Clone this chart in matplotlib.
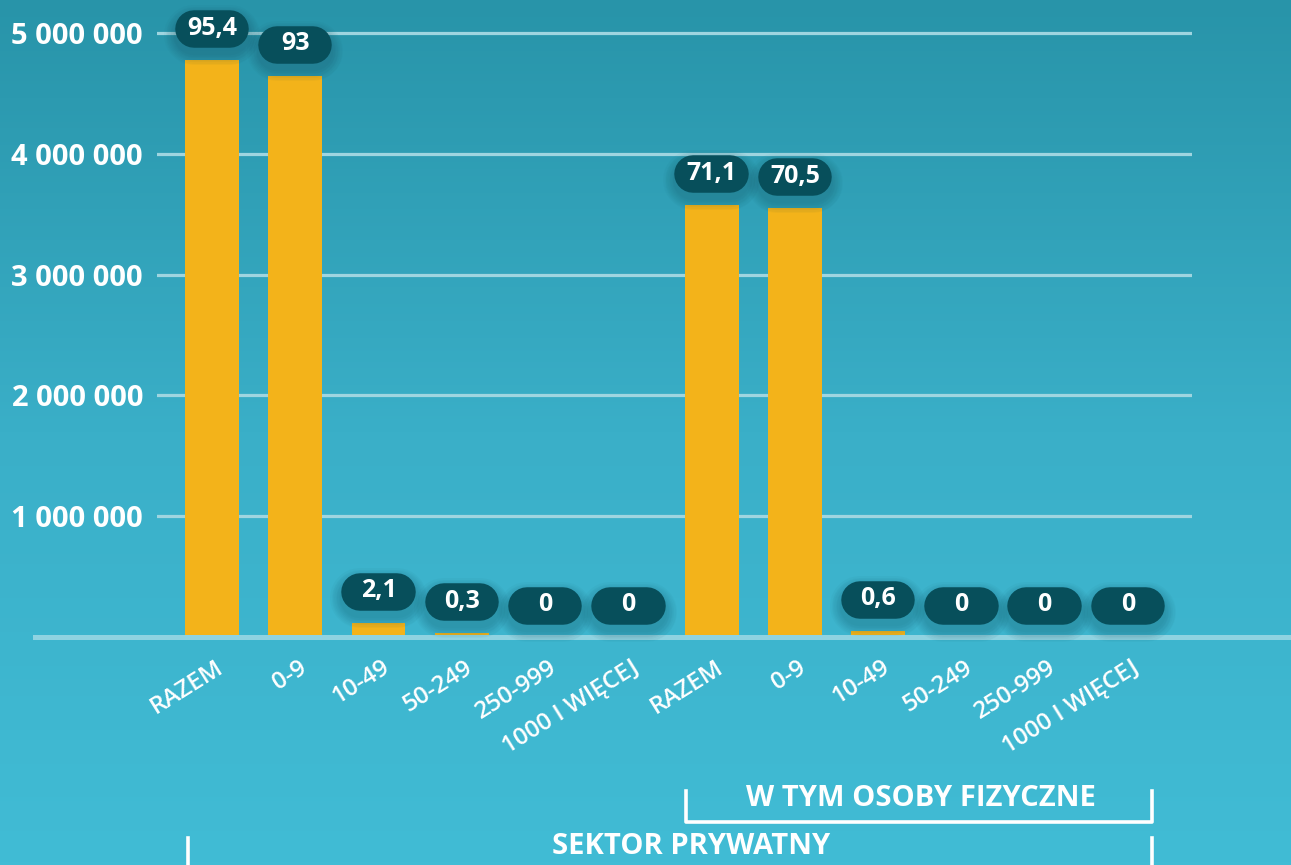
import numpy as np
import matplotlib
matplotlib.use('Agg')
import matplotlib.pyplot as plt
from matplotlib.lines import Line2D
from matplotlib.transforms import ScaledTranslation, blended_transform_factory
from matplotlib.colors import LinearSegmentedColormap

# ---------------- data ----------------
categories = ['RAZEM', '0-9', '10-49', '50-249', '250-999', '1000 I WIĘCEJ']
sector_values = [4775000, 4648000, 118000, 30000, 2500, 400]
sector_labels = ['95,4', '93', '2,1', '0,3', '0', '0']
persons_values = [3576000, 3548000, 50000, 1500, 150, 20]
persons_labels = ['71,1', '70,5', '0,6', '0', '0', '0']
y_ticks = [1000000, 2000000, 3000000, 4000000, 5000000]
y_tick_labels = ['1 000 000', '2 000 000', '3 000 000', '4 000 000', '5 000 000']
group_inner = 'W TYM OSOBY FIZYCZNE'
group_outer = 'SEKTOR PRYWATNY'

plt.rcParams['font.family'] = ['Open Sans', 'DejaVu Sans']

W, H = 1291, 865
fig = plt.figure(figsize=(W / 100, H / 100), dpi=100)

# background gradient
bg = fig.add_axes([0, 0, 1, 1], zorder=-10)
grad = np.linspace(0, 1, 256).reshape(-1, 1)
cmap = LinearSegmentedColormap.from_list('bg', ['#2894a9', '#3aafc8', '#41bcd5'])
bg.imshow(grad, aspect='auto', cmap=cmap, extent=[0, 1, 0, 1], origin='upper')
bg.axis('off')

# main axes
px_per_m = 120.8
ymax = 5.2e6
ax = fig.add_axes([157 / W, 1 - 637 / H, (1192 - 157) / W, (ymax / 1e6 * px_per_m) / H])
ax.set_facecolor('none')

values = sector_values + persons_values
labels = sector_labels + persons_labels
xlabels = categories + categories
x = np.arange(len(values))

ax.bar(x, values, width=0.648, color='#f3b31a', zorder=3)

for t in y_ticks:
    ax.axhline(t, color='#9fd5e0', lw=2.3, zorder=1)
ax.axhline(0, xmin=(35 - 157) / 1035, xmax=(1291 - 157) / 1035, color='#8fd3e1',
           lw=3.6, clip_on=False, zorder=4)

for s in ax.spines.values():
    s.set_visible(False)

ax.set_yticks(y_ticks, y_tick_labels)
ax.tick_params(axis='y', length=0, pad=10, labelsize=21, labelcolor='white')
for lab in ax.get_yticklabels():
    lab.set_fontweight('bold')

ax.set_xticks(x, xlabels)
ax.tick_params(axis='x', length=0, pad=12, labelsize=17.5, labelcolor='white')
for lab in ax.get_xticklabels():
    lab.set_rotation(32)
    lab.set_ha('right')
    lab.set_va('top')
    lab.set_rotation_mode('anchor')
    lab.set_fontweight('semibold')
    lab.set_transform(lab.get_transform() + ScaledTranslation(3 / 100, -2 / 100, fig.dpi_scale_trans))

# pills (stadium shapes drawn as thick round-capped lines, sizes in inches)
pw, ph, off = 0.74, 0.375, 0.31
half = (pw - ph) / 2
for xi, v, lab in zip(x, values, labels):
    trans = fig.dpi_scale_trans + ScaledTranslation(xi, v, ax.transData)
    for k in range(8):
        e = 0.014 * (k + 1)
        ax.add_line(Line2D([-half, half], [off - 0.06, off - 0.06], transform=trans,
                           lw=(ph + 2 * e) * 72, color='#0b3e4a', alpha=0.03,
                           solid_capstyle='round', zorder=5, clip_on=False))
    ax.add_line(Line2D([-half, half], [off, off], transform=trans, lw=ph * 72,
                       color='#074f5b', solid_capstyle='round', zorder=6, clip_on=False))
    ax.text(0, off + 0.01, lab, transform=trans, ha='center', va='center',
            color='white', fontsize=18, fontweight='bold', zorder=7)

ax.set_xlim(-0.66, 11.77)
ax.set_ylim(0, ymax)

# group brackets
bt = blended_transform_factory(ax.transData, fig.transFigure)
def fy(py):
    return 1 - py / H

g2_left, g2_right = 6 - 0.31, 11 + 0.29
g1_left = 0 - 0.29
lw_b = 2.6
fig.add_artist(Line2D([g2_left, g2_left, g2_right, g2_right],
                      [fy(791), fy(822), fy(822), fy(791)],
                      transform=bt, color='white', lw=lw_b))
fig.text((g2_left + g2_right) / 2 + 0.03, fy(798), group_inner, transform=bt,
         ha='center', va='center', color='white', fontsize=21, fontweight='bold')
fig.add_artist(Line2D([g1_left, g1_left], [fy(838), fy(866)], transform=bt,
                      color='white', lw=lw_b))
fig.add_artist(Line2D([g2_right, g2_right], [fy(838), fy(866)], transform=bt,
                      color='white', lw=lw_b))
fig.text(5.76, fy(847), group_outer, transform=bt,
         ha='center', va='center', color='white', fontsize=21, fontweight='bold')

fig.savefig('out.png', dpi=100)
